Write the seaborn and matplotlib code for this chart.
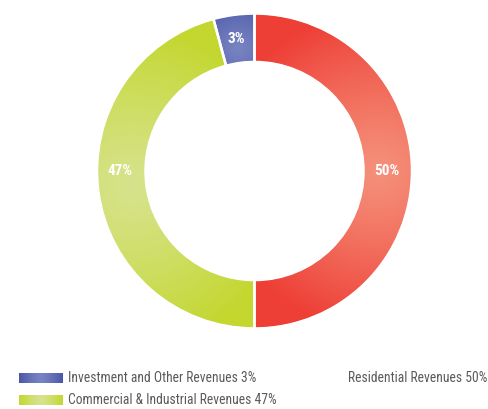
import numpy as np
import matplotlib
matplotlib.use("Agg")
import matplotlib.pyplot as plt
from matplotlib.patches import Wedge
from matplotlib import font_manager as fm
import seaborn as sns

# ---- data ----
categories = ["Residential Revenues", "Commercial & Industrial Revenues", "Investment and Other Revenues"]
values = [50.0, 45.8, 4.2]          # arc sizes as drawn
pct_labels = ["50%", "47%", "3%"]    # printed labels
legend_labels = ["Investment and Other Revenues 3%",
                 "Commercial & Industrial Revenues 47%",
                 "Residential Revenues 50%"]
dark_colors = ["#EE3F36", "#C3D72F", "#4A58A6"]
light_colors = ["#F5907A", "#D7E38C", "#7883C2"]

sns.set_theme(style="white")
plt.rcParams['font.family'] = ['DejaVu Sans']


def find_font(bold=False):
    best = None
    for f in fm.fontManager.ttflist:
        nm = f.name.lower()
        path = f.fname.lower()
        is_narrow = ('narrow' in nm or 'condensed' in nm or f.stretch in ('condensed', 'semi-condensed')
                     or 'condensed' in path or 'narrow' in path)
        if not is_narrow or f.style != 'normal':
            continue
        w = f.weight if isinstance(f.weight, int) else (700 if 'bold' in str(f.weight) else 400)
        if bold and w < 600:
            continue
        if not bold and w >= 600:
            continue
        score = 0
        if 'roboto' in nm:
            score += 2
        if 'liberation' in nm:
            score += 3
        if 'semi' in path or 'semi' in nm:
            score -= 1
        if 'extra' in path or 'ultra' in path or 'light' in path or 'thin' in path or 'medium' in path or 'black' in path:
            score -= 2
        if best is None or score > best[0]:
            best = (score, f)
    return fm.FontProperties(fname=best[1].fname) if best else None


fp_reg = find_font(False)
fp_bold = find_font(True)

W, H = 488, 409
fig = plt.figure(figsize=(W / 100, H / 100), dpi=100)
ax = fig.add_axes([0, 0, 1, 1])

cx, cy = 254.5, H - 171
R_out, R_in = 156.5, 110.0
width = R_out - R_in

wedges, _ = ax.pie(values, colors=dark_colors, startangle=90, counterclock=False,
                   radius=R_out, center=(cx, cy), frame=True,
                   wedgeprops=dict(width=width, linewidth=0))

ax.set_xlim(0, W)
ax.set_ylim(0, H)
ax.set_aspect('equal')
ax.axis('off')


def hex2rgb(h):
    return np.array(matplotlib.colors.to_rgb(h))


xs = np.linspace(cx - R_out - 2, cx + R_out + 2, 400)
ys = np.linspace(cy - R_out - 2, cy + R_out + 2, 400)
X, Y = np.meshgrid(xs, ys)
r_mid = (R_out + R_in) / 2
for i, w in enumerate(wedges):
    th = np.deg2rad((w.theta1 + w.theta2) / 2)
    span = abs(w.theta2 - w.theta1)
    px = cx + 0.93 * r_mid * np.cos(th)
    py = cy + 0.93 * r_mid * np.sin(th)
    Rg = max(50, min(160, np.deg2rad(span) * r_mid * 0.55))
    d = np.sqrt((X - px) ** 2 + (Y - py) ** 2)
    t = np.clip(d / Rg, 0, 1) ** 1.2
    c0, c1 = hex2rgb(light_colors[i]), hex2rgb(dark_colors[i])
    img = c0[None, None, :] * (1 - t[..., None]) + c1[None, None, :] * t[..., None]
    im = ax.imshow(img, extent=(xs[0], xs[-1], ys[0], ys[-1]), origin='lower',
                   interpolation='bilinear', zorder=2)
    im.set_clip_path(w)

for w in wedges:
    sep = Wedge((cx, cy), R_out + 1, w.theta1, w.theta2, width=width + 2,
                facecolor='none', edgecolor='white', linewidth=1.8, zorder=3)
    ax.add_patch(sep)

# percentage labels
for w, lab in zip(wedges, pct_labels):
    span = abs(w.theta2 - w.theta1)
    th = np.deg2rad((w.theta1 + w.theta2) / 2)
    if 90 < span < 180:
        th = np.pi if np.cos(th) < 0 else 0.0
    kw = dict(fontproperties=fp_bold, fontsize=11) if fp_bold else dict(fontsize=9.5, fontweight='bold')
    ax.text(cx + r_mid * np.cos(th) - 1, cy + r_mid * np.sin(th), lab,
            color='white', ha='center', va='center', zorder=4, **kw)

# legend
legend_colors = [(dark_colors[2], light_colors[2]), (dark_colors[1], light_colors[1])]
sw_y = [H - 383, H - 405]
tkw = dict(fontproperties=fp_reg, fontsize=9.8) if fp_reg else dict(fontsize=8.5)
for (dc, lc), y0, lab in zip(legend_colors, sw_y, legend_labels[:2]):
    gx = np.linspace(-1, 1, 60)
    tt = np.abs(gx) ** 1.3
    c0, c1 = hex2rgb(lc), hex2rgb(dc)
    sw = c0[None, None, :] * (1 - tt[None, :, None]) + c1[None, None, :] * tt[None, :, None]
    ax.imshow(sw, extent=(19, 63, y0, y0 + 10), origin='lower',
              interpolation='bilinear', aspect='auto', zorder=2)
    ax.text(68, y0 + 5, lab, color='#5a5a5a', ha='left', va='center', **tkw)
ax.text(487, sw_y[0] + 5, legend_labels[2], color='#5a5a5a',
        ha='right', va='center', **tkw)

ax.set_xlim(0, W)
ax.set_ylim(0, H)
fig.savefig("out.png", dpi=100)
